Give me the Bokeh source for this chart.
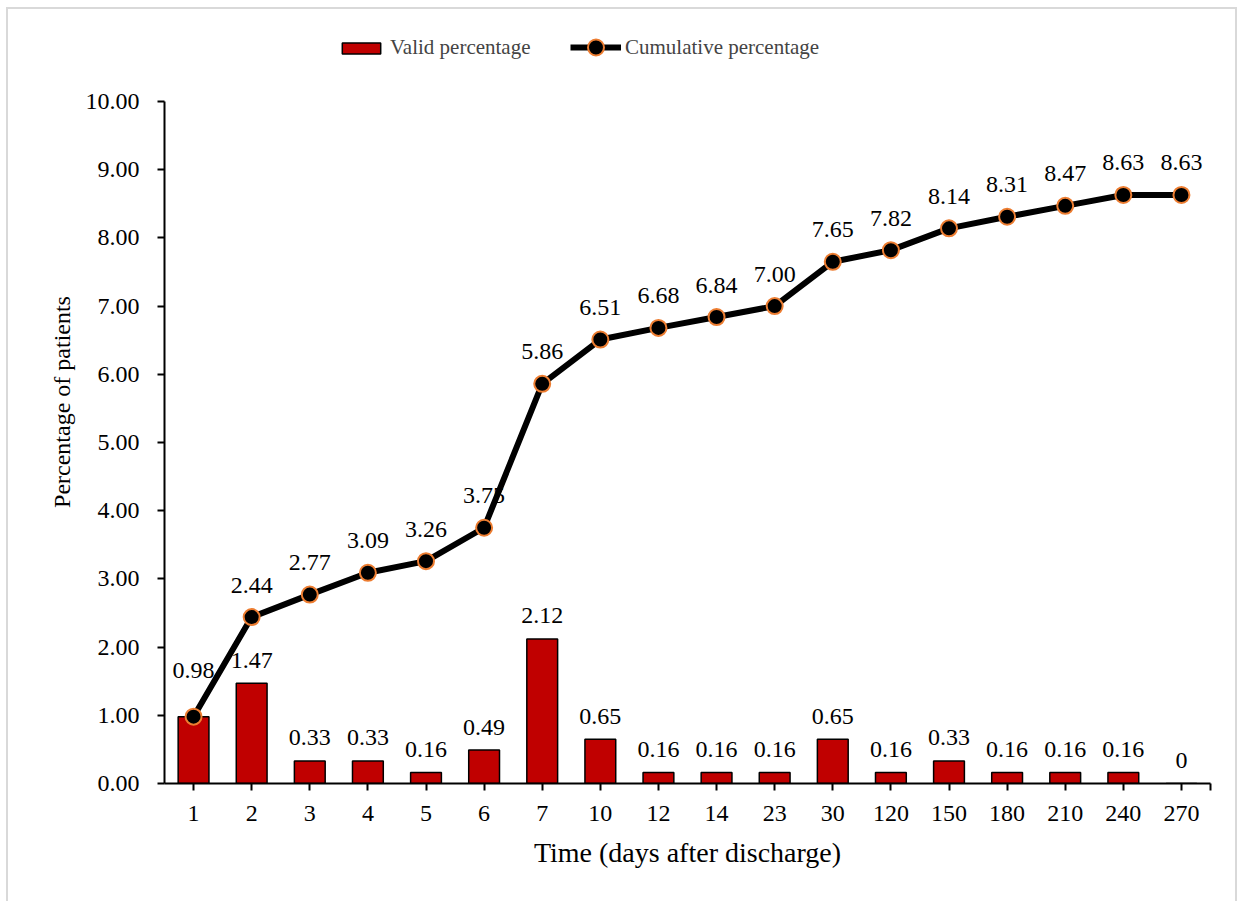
from bokeh.plotting import figure
from bokeh.models import (ColumnDataSource, FixedTicker, Legend, LegendItem, Range1d,
                          CustomJSTickFormatter)
from bokeh.core.properties import value
from bokeh.embed import file_html
from bokeh.resources import INLINE

categories = ["1", "2", "3", "4", "5", "6", "7", "10", "12", "14", "23", "30",
              "120", "150", "180", "210", "240", "270"]
valid_pct = [0.98, 1.47, 0.33, 0.33, 0.16, 0.49, 2.12, 0.65, 0.16, 0.16, 0.16,
             0.65, 0.16, 0.33, 0.16, 0.16, 0.16, 0]
cumulative_pct = [0.98, 2.44, 2.77, 3.09, 3.26, 3.75, 5.86, 6.51, 6.68, 6.84,
                  7.00, 7.65, 7.82, 8.14, 8.31, 8.47, 8.63, 8.63]
y_ticks = [0, 1, 2, 3, 4, 5, 6, 7, 8, 9, 10]
y_max = 10

FONT = "Liberation Serif"
n = len(categories)
xs = list(range(1, n + 1))

bar_lab = [("0" if v == 0 else f"{v:.2f}") for v in valid_pct]
cum_lab = [f"{v:.2f}" for v in cumulative_pct]
# label offsets (style)
cum_dy = [-32] * n
cum_dy[0] = -46
bar_show = [True] * n
bar_show[0] = False

src = ColumnDataSource(dict(x=xs, valid=valid_pct, cum=cumulative_pct,
                            clab=cum_lab, cdy=cum_dy))
bsrc = ColumnDataSource(dict(x=[x for x, s in zip(xs, bar_show) if s],
                             valid=[v for v, s in zip(valid_pct, bar_show) if s],
                             blab=[b for b, s in zip(bar_lab, bar_show) if s]))

# frame: top at page y=20, value 10 at y=101, value 0 at y=783
top_extra = y_max * (101 - 20) / (783 - 101)

p = figure(width=1231, height=896, output_backend="svg", toolbar_location=None,
           x_range=Range1d(0.5, n + 0.5), y_range=Range1d(0, y_max + top_extra),
           min_border_left=156, min_border_right=29, min_border_top=11,
           min_border_bottom=122,
           styles={"border": "2px solid #d9d9d9", "margin": "7px 0 0 6px"})
p.grid.visible = False
p.outline_line_color = None

bars = p.vbar(x="x", top="valid", width=0.53, source=src, fill_color="#C00000",
              line_color="black", line_width=1.5)

p.text(x="x", y="valid", text="blab", source=bsrc, text_font=value(FONT),
       text_font_size="24px", text_align="center", text_baseline="middle",
       y_offset=-23, text_color="black")
p.text(x="x", y="cum", text="clab", source=src, text_font=value(FONT),
       text_font_size="24px", text_align="center", text_baseline="middle",
       y_offset="cdy", text_color="black")

ln = p.line(x="x", y="cum", source=src, line_color="black", line_width=6,
            line_join="round")
mk = p.scatter(x="x", y="cum", source=src, size=16, fill_color="black",
               line_color="#ED7D31", line_width=2)

# axes
p.xaxis.ticker = FixedTicker(ticks=xs + [n + 0.5])
p.xaxis.major_label_overrides = {**{x: c for x, c in zip(xs, categories)}, n + 0.5: ""}
p.yaxis.ticker = FixedTicker(ticks=y_ticks)
p.yaxis.formatter = CustomJSTickFormatter(code="return tick.toFixed(2);")
p.yaxis.bounds = (0, y_max)
for ax in (p.xaxis[0], p.yaxis[0]):
    ax.axis_line_color = "black"
    ax.axis_line_width = 2
    ax.major_tick_line_color = "black"
    ax.major_tick_line_width = 2
    ax.major_tick_in = 0
    ax.major_tick_out = 7
    ax.minor_tick_line_color = None
    ax.major_label_text_font = FONT
    ax.major_label_text_font_size = "24px"
    ax.major_label_text_color = "black"
    ax.axis_label_text_font = FONT
    ax.axis_label_text_font_style = "normal"
    ax.axis_label_text_color = "black"
p.xaxis.axis_label = "Time (days after discharge)"
p.xaxis.axis_label_text_font_size = "28px"
p.xaxis.major_label_standoff = 15
p.xaxis.axis_label_standoff = 13
p.yaxis.axis_label = "Percentage of patients"
p.yaxis.axis_label_text_font_size = "24px"
p.yaxis.major_label_standoff = 18
p.yaxis.axis_label_standoff = 8

common = dict(orientation="horizontal", label_text_font=FONT,
              label_text_font_size="21px", border_line_color=None,
              background_fill_alpha=0, padding=0, margin=0)
legend_bar = Legend(items=[LegendItem(label="Valid percentage", renderers=[bars])],
                    location=(173, 723), glyph_width=48, glyph_height=14,
                    label_standoff=5, **common)
legend_line = Legend(items=[LegendItem(label="Cumulative percentage",
                                       renderers=[ln, mk])],
                     location=(406, 716), glyph_width=51, glyph_height=40,
                     label_standoff=4, **common)
p.add_layout(legend_bar, "center")
p.add_layout(legend_line, "center")

open("out.html", "w").write(file_html(p, INLINE))
